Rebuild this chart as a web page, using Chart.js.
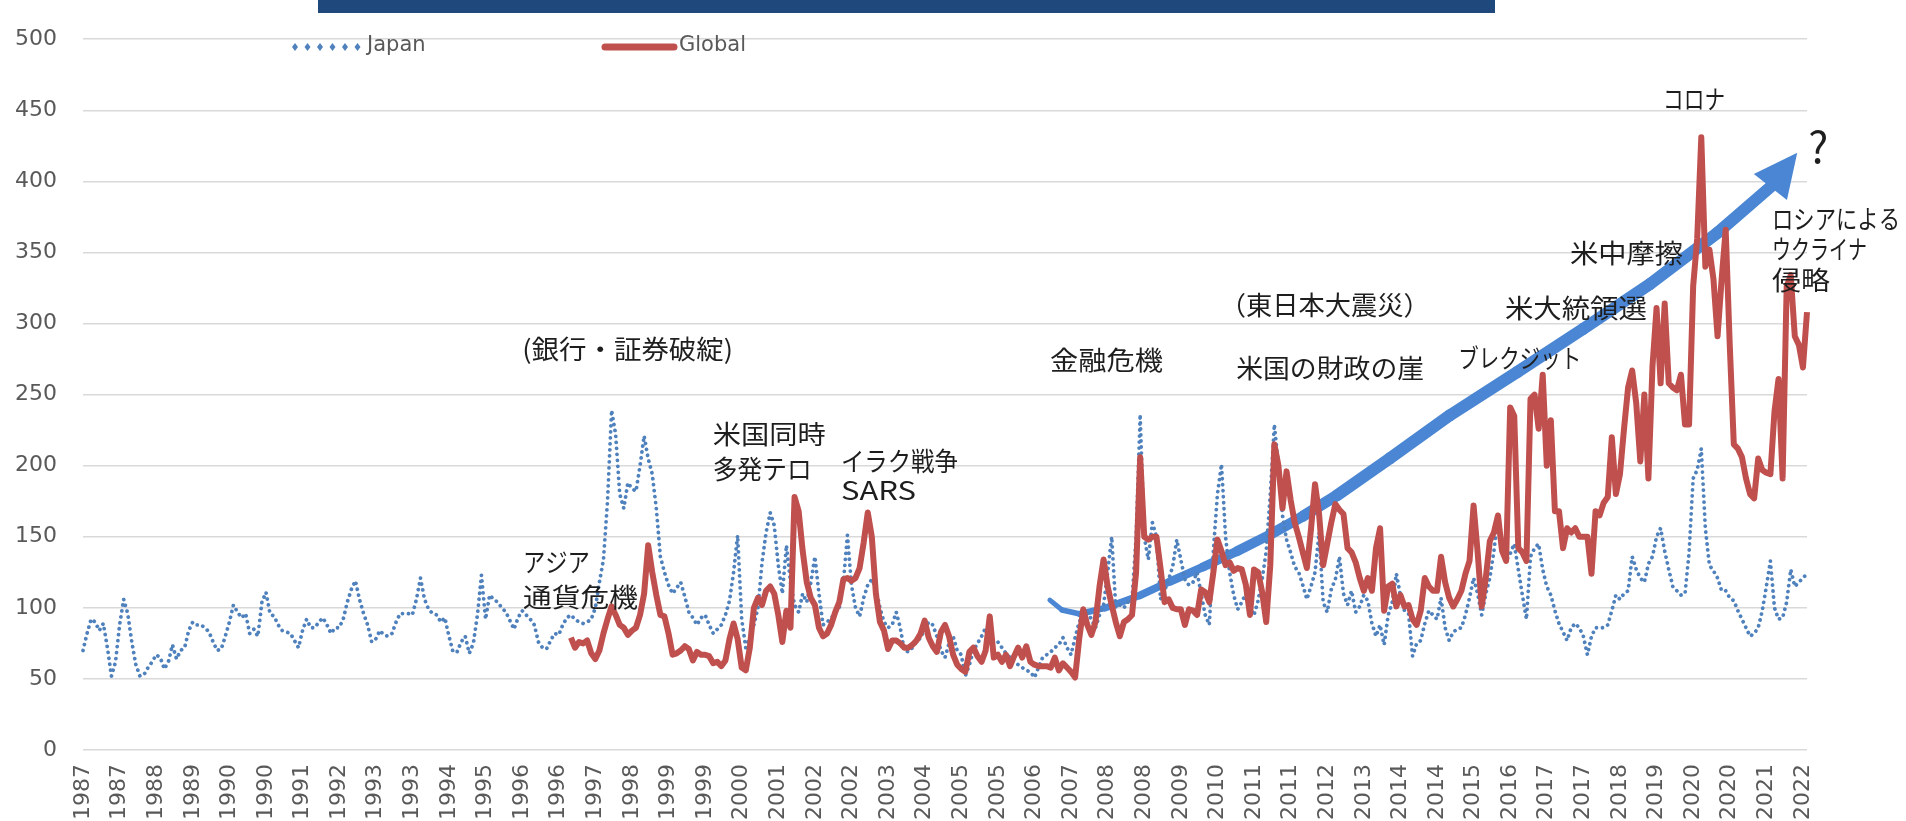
<!DOCTYPE html>
<html>
<head>
<meta charset="utf-8">
<script src="https://cdn.jsdelivr.net/npm/chart.js@4.4.0/dist/chart.umd.min.js"></script>
<style>
  html, body { margin: 0; padding: 0; background: #fff; }
  #wrap { width: 1906px; height: 821px; }
</style>
</head>
<body>
<div id="wrap"><canvas id="chart" width="1906" height="821"></canvas></div>
<script>
// monthly data, Jan 1987 onward
const startYear = 1987
const monthCount = 425
const tickEvery = 9
const yTickStep = 50

const japanValues = [
  70, 82, 92, 90, 84, 89, 72, 52, 62, 88,
  106, 96, 76, 60, 52, 53, 58, 62, 67, 65,
  57, 62, 74, 64, 70, 72, 84, 90, 88, 88,
  86, 83, 76, 70, 71, 80, 90, 102, 97, 93,
  96, 82, 85, 80, 104, 111, 96, 94, 88, 84,
  83, 82, 77, 72, 84, 92, 86, 86, 90, 93,
  88, 82, 86, 86, 92, 104, 113, 119, 106, 96,
  88, 76, 78, 84, 81, 80, 82, 90, 96, 96,
  96, 95, 106, 121, 106, 99, 96, 95, 90, 93,
  80, 69, 69, 76, 80, 68, 75, 95, 123, 92,
  109, 106, 104, 100, 97, 91, 85, 93, 98, 95,
  92, 88, 76, 72, 71, 77, 82, 81, 88, 93,
  95, 92, 90, 89, 90, 92, 100, 118, 134, 175,
  239, 222, 180, 170, 188, 184, 182, 200, 221, 205,
  194, 170, 136, 125, 116, 110, 114, 118, 108, 97,
  93, 88, 93, 95, 88, 82, 85, 88, 95, 105,
  125, 151, 92, 72, 79, 88, 100, 132, 153, 167,
  158, 130, 110, 144, 118, 102, 97, 110, 104, 118,
  136, 110, 88, 90, 93, 96, 100, 118, 151, 116,
  100, 94, 107, 116, 120, 114, 100, 90, 86, 88,
  97, 86, 70, 69, 72, 76, 79, 85, 90, 88,
  80, 70, 65, 75, 80, 70, 67, 52, 60, 70,
  75, 80, 86, 80, 76, 76, 72, 68, 65, 62,
  60, 58, 56, 55, 51, 58, 65, 67, 69, 72,
  74, 79, 72, 67, 79, 90, 95, 97, 92, 86,
  95, 102, 125, 150, 100, 102, 100, 104, 106, 150,
  236, 150, 134, 160, 150, 106, 112, 120, 129, 148,
  134, 120, 116, 118, 125, 110, 95, 88, 140, 180,
  201, 150, 125, 109, 99, 104, 110, 100, 95, 105,
  120, 140, 180, 229, 200, 165, 148, 139, 129, 125,
  116, 106, 115, 125, 153, 104, 97, 113, 120, 136,
  110, 102, 112, 97, 101, 109, 105, 89, 80, 88,
  74, 95, 104, 124, 109, 98, 96, 66, 75, 77,
  89, 98, 95, 92, 107, 86, 77, 83, 85, 86,
  95, 107, 121, 110, 95, 110, 121, 140, 165, 145,
  133, 138, 145, 127, 109, 92, 136, 142, 145, 127,
  115, 109, 98, 89, 83, 77, 86, 89, 86, 80,
  67, 80, 86, 86, 86, 88, 98, 109, 106, 110,
  112, 136, 127, 121, 118, 131, 136, 150, 156, 140,
  127, 115, 112, 109, 110, 139, 191, 197, 212, 156,
  130, 126, 121, 112, 112, 107, 105, 98, 92, 86,
  80, 82, 86, 98, 115, 133, 100, 92, 93, 104,
  127, 115, 118, 121, 124
]

// global series starts Jan 1997 (month 120)
const globalStart = 120
const globalValues = [
  79, 72, 76, 75, 77, 68, 64, 70, 82, 92,
  101, 95, 88, 86, 81, 84, 86, 95, 110, 144,
  125, 109, 95, 94, 82, 67, 68, 70, 73, 71,
  63, 69, 67, 67, 66, 61, 62, 59, 63, 78,
  89, 78, 58, 56, 72, 100, 107, 102, 112, 115,
  110, 95, 76, 98, 86, 178, 168, 140, 118, 107,
  102, 86, 80, 82, 88, 97, 104, 120, 121, 119,
  121, 128, 146, 167, 150, 110, 90, 84, 71, 77,
  77, 75, 72, 72, 74, 77, 82, 91, 79, 73,
  69, 83, 88, 80, 67, 60, 57, 55, 69, 72,
  66, 62, 70, 94, 65, 67, 62, 67, 59, 66,
  72, 65, 73, 62, 60, 59, 59, 59, 58, 65,
  56, 61, 58, 55, 51, 78, 99, 88, 81, 90,
  115, 134, 115, 102, 90, 80, 90, 92, 95, 125,
  206, 150, 148, 150, 150, 128, 104, 106, 100, 99,
  99, 88, 99, 98, 95, 113, 111, 104, 125, 148,
  140, 130, 132, 126, 128, 127, 116, 95, 127, 125,
  111, 90, 130, 215, 200, 170, 196, 176, 160, 150,
  139, 128, 155, 187, 166, 130, 145, 160, 173, 169,
  166, 142, 139, 132, 121, 112, 121, 112, 142, 156,
  98, 115, 117, 101, 109, 101, 102, 92, 88, 98,
  121, 115, 112, 112, 136, 118, 107, 101, 106, 112,
  124, 133, 172, 139, 101, 121, 147, 153, 165, 140,
  133, 241, 235, 142, 139, 133, 247, 250, 226, 264,
  200, 232, 168, 168, 142, 156, 153, 156, 150, 150,
  150, 124, 168, 165, 174, 178, 220, 180, 194, 226,
  255, 267, 244, 203, 250, 191, 270, 311, 258, 314,
  258, 255, 253, 264, 229, 229, 326, 360, 431, 340,
  352, 331, 291, 331, 366, 285, 215, 212, 206, 191,
  180, 177, 205, 197, 195, 194, 238, 261, 191, 326,
  334, 291, 285, 269, 308
]

// annotations: [text, month index, value, font px, target width px]
const notes = [
  ['(銀行・証券破綻)', 108.0, 281.7, 26, 211],
  ['アジア', 108.2, 132.2, 26, 67],
  ['通貨危機', 108.2, 107.4, 26, 115],
  ['米国同時', 154.9, 222.5, 26, 113],
  ['多発テロ', 154.9, 197.7, 26, 99],
  ['イラク戦争', 186.4, 203.2, 26, 117],
  ['SARS', 186.4, 182.5, 26, 75],
  ['金融危機', 237.8, 274.1, 26, 113],
  ['（東日本大震災）', 279.6, 312.7, 26, 210],
  ['米国の財政の崖', 283.6, 268.6, 26, 188],
  ['ブレクジット', 338.2, 275.5, 26, 123],
  ['米大統領選', 349.7, 310.6, 26, 142],
  ['米中摩擦', 365.7, 349.2, 26, 113],
  ['コロナ', 388.6, 458, 26, 62],
  ['?', 424.3, 424.9, 44, 20],
  ['ロシアによる', 415.4, 373.3, 26, 128],
  ['ウクライナ', 415.4, 352.6, 26, 95],
  ['侵略', 415.4, 330.6, 26, 58]
]

// trend arrow, in [month index, value]; last point is the tip
const arrowPath = [
  [237.8, 105.4], [240.8, 98.5], [245.2, 95.7], [251.4, 99.9], [260.0, 108.8],
  [267.3, 118.5], [275.5, 128.8], [283.8, 139.8], [291.9, 151.5], [300.1, 164.6],
  [308.4, 179.1], [321.4, 205.2], [336.2, 235.5], [352.7, 265.8], [368.9, 296.1],
  [385.4, 327.8], [401.9, 363.6], [415.0, 396.0], [421.6, 420.1]
]

const months = []
for (let k = 0; k < monthCount; k++) {
  const y = startYear + Math.floor(k / 12)
  const m = (k % 12) + 1
  months.push(y + '-' + String(m).padStart(2, '0'))
}
const globalSeries = months.map((_, k) => (k < globalStart ? null : globalValues[k - globalStart]))

const blue = '#4F81BD'
const red = '#C0504D'
const grey = '#595959'
const tickFont = { family: 'DejaVu Sans', size: 22 }

const arrowPlugin = {
  id: 'arrow',
  beforeDatasetsDraw(chart) {
    const { ctx } = chart
    const xs = chart.scales.x, ys = chart.scales.y
    const pts = arrowPath.map(([i, v]) => ({ x: xs.getPixelForValue(i), y: ys.getPixelForValue(v) }))
    const tip = pts[pts.length - 1]
    const line = pts.slice(0, -1)
    ctx.save()
    ctx.strokeStyle = '#4A86D3'
    ctx.fillStyle = '#4A86D3'
    ctx.lineCap = 'round'
    ctx.lineJoin = 'round'
    for (let k = 0; k < line.length - 1; k++) {
      ctx.lineWidth = 5 + 7 * Math.min(1, k / 10)
      ctx.beginPath()
      ctx.moveTo(line[k].x, line[k].y)
      ctx.lineTo(line[k + 1].x, line[k + 1].y)
      ctx.stroke()
    }
    // arrow head
    const base = line[line.length - 1]
    const dx = tip.x - base.x, dy = tip.y - base.y
    const len = Math.hypot(dx, dy)
    const nx = -dy / len, ny = dx / len
    const hw = 21
    ctx.beginPath()
    ctx.moveTo(tip.x, tip.y)
    ctx.lineTo(base.x + nx * hw, base.y + ny * hw)
    ctx.lineTo(base.x - nx * hw, base.y - ny * hw)
    ctx.closePath()
    ctx.fill()
    ctx.restore()
  }
}

const overlayPlugin = {
  id: 'overlay',
  afterDraw(chart) {
    const { ctx } = chart
    const xs = chart.scales.x, ys = chart.scales.y
    ctx.save()
    // cut-off title banner
    ctx.fillStyle = '#1F497D'
    ctx.fillRect(318, 0, 1177, 13)

    // legend
    ctx.fillStyle = blue
    for (let k = 0; k < 6; k++) {
      const cx = 295 + k * 12.5, cy = 47
      ctx.beginPath()
      ctx.moveTo(cx, cy - 4)
      ctx.lineTo(cx + 3, cy)
      ctx.lineTo(cx, cy + 4)
      ctx.lineTo(cx - 3, cy)
      ctx.closePath()
      ctx.fill()
    }
    ctx.strokeStyle = red
    ctx.lineWidth = 7
    ctx.lineCap = 'round'
    ctx.beginPath()
    ctx.moveTo(605, 47)
    ctx.lineTo(674, 47)
    ctx.stroke()
    ctx.fillStyle = grey
    ctx.font = '21px "DejaVu Sans"'
    ctx.textBaseline = 'middle'
    ctx.textAlign = 'left'
    ctx.fillText('Japan', 367, 46)
    ctx.fillText('Global', 679, 46)

    // event labels
    ctx.fillStyle = '#1e1e1e'
    for (const [text, i, v, size, width] of notes) {
      ctx.font = size + 'px "Noto Sans CJK JP"'
      const w = ctx.measureText(text).width
      const x = xs.getPixelForValue(i)
      const y = ys.getPixelForValue(v)
      ctx.save()
      ctx.translate(x, y)
      ctx.scale(width / w, 1)
      ctx.fillText(text, 0, 0)
      ctx.restore()
    }
    ctx.restore()
  }
}

new Chart(document.getElementById('chart'), {
  type: 'line',
  data: {
    labels: months,
    datasets: [
      {
        label: 'Global',
        data: globalSeries,
        borderColor: red,
        borderWidth: 6,
        pointRadius: 0,
        tension: 0,
        borderJoinStyle: 'round',
        spanGaps: false
      },
      {
        label: 'Japan',
        data: japanValues,
        borderColor: blue,
        borderWidth: 3.8,
        borderDash: [0.01, 6],
        borderCapStyle: 'round',
        pointRadius: 0,
        tension: 0
      }
    ]
  },
  options: {
    responsive: false,
    devicePixelRatio: 1,
    animation: false,
    layout: { padding: { top: 24, right: 99, left: 0, bottom: 0 } },
    plugins: {
      legend: { display: false },
      tooltip: { enabled: false }
    },
    scales: {
      x: {
        offset: false,
        grid: { display: false, drawTicks: false },
        border: { display: false },
        ticks: {
          autoSkip: false,
          minRotation: 90,
          maxRotation: 90,
          padding: 14,
          color: grey,
          font: tickFont,
          callback(value) { return this.getLabelForValue(value).slice(0, 4) }
        },
        afterBuildTicks(scale) {
          scale.ticks = scale.ticks.filter(t => t.value % tickEvery === 0)
        },
        afterFit(scale) { scale.height = 71 }
      },
      y: {
        min: 0,
        max: 500,
        ticks: { stepSize: yTickStep, padding: 26, color: grey, font: tickFont },
        grid: { color: '#d9d9d9', lineWidth: 1.5, drawTicks: false },
        border: { display: false },
        afterFit(scale) { scale.width = 83 }
      }
    }
  },
  plugins: [arrowPlugin, overlayPlugin]
})
</script>
</body>
</html>
